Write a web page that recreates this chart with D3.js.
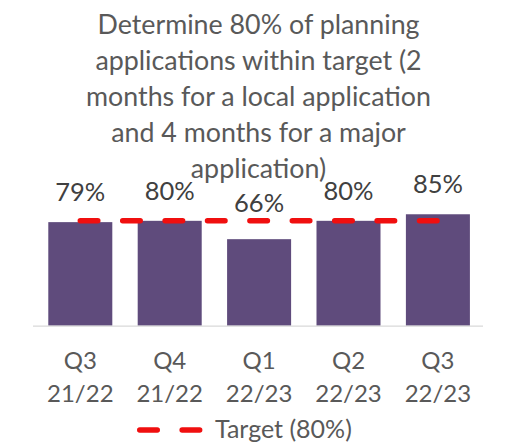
<!DOCTYPE html>
<html><head><meta charset="utf-8">
<script src="https://cdn.jsdelivr.net/npm/d3@7"></script>
<style>html,body{margin:0;padding:0;background:#fff;}svg{display:block;font-family:Lato,"Open Sans",sans-serif;}</style>
</head><body>
<svg id="c" width="517" height="446"></svg>
<script>
const titleLines = ["Determine 80% of planning","applications within target (2","months for a local application","and 4 months for a major","application)"];
const categories = ["Q3 21/22","Q4 21/22","Q1 22/23","Q2 22/23","Q3 22/23"];
const values = [79, 80, 66, 80, 85];
const targets = [80, 80, 80, 80, 80];
const legendLabel = "Target (80%)";

const svg = d3.select("#c");
const x = d3.scaleBand().domain(categories).range([35.6, 482.6]).paddingInner(0.284).paddingOuter(0.142);
const y = d3.scaleLinear().domain([0, 100]).range([325.7, 194.6]);

// title
svg.append("text").attr("x", 258.5).attr("y", 34).attr("text-anchor","middle")
  .attr("fill","#595959").style("font-size","26.8px")
  .selectAll("tspan").data(titleLines).join("tspan")
  .attr("x",258.5).attr("dy",(d,i)=> i===0?0:35.9).text(d=>d);

// bars
svg.append("g").selectAll("rect").data(values).join("rect")
  .attr("x",(d,i)=>x(categories[i])).attr("width",x.bandwidth())
  .attr("y",d=>y(d)).attr("height",d=>y(0)-y(d)).attr("fill","#5f4b7c");

// axis
const ax = svg.append("g").attr("transform",`translate(0,${y(0)})`)
  .call(d3.axisBottom(x).tickSize(0).tickSizeOuter(0).tickFormat(""));
ax.select(".domain").attr("stroke","#d9d9d9").attr("stroke-width",1.3)
  .attr("d","M33,0.5H483");
ax.selectAll(".tick text").remove();
ax.selectAll(".tick").append("text").attr("fill","#595959").attr("text-anchor","middle")
  .style("font-size","24px").style("font-family","Lato,sans-serif")
  .selectAll("tspan").data(d=>d.split(" ")).join("tspan")
  .attr("x",0).attr("y",(d,i)=> i===0?43:76).text(d=>d);

// target line
const line = d3.line().x((d,i)=>x(categories[i])+x.bandwidth()/2).y(d=>y(d));
svg.append("path").datum(targets).attr("d",line).attr("fill","none")
  .attr("stroke","#f00f0f").attr("stroke-width",5.5).attr("stroke-linecap","round")
  .attr("stroke-dasharray","17.5,24.9");

// data labels
svg.append("g").selectAll("text").data(values).join("text")
  .attr("x",(d,i)=>x(categories[i])+x.bandwidth()/2)
  .attr("y",(d,i)=>Math.min(y(d)-21, y(targets[i])-9))
  .attr("text-anchor","middle").attr("fill","#404040").style("font-size","25.5px")
  .text(d=>d+"%");

// legend
svg.append("line").attr("x1",139.75).attr("x2",199.65).attr("y1",430).attr("y2",430)
  .attr("stroke","#f00f0f").attr("stroke-width",5.5).attr("stroke-linecap","round")
  .attr("stroke-dasharray","17.5,24.9");
svg.append("text").attr("x",215).attr("y",437.5).attr("fill","#595959").style("font-size","25px").text(legendLabel);
</script>
</body></html>
